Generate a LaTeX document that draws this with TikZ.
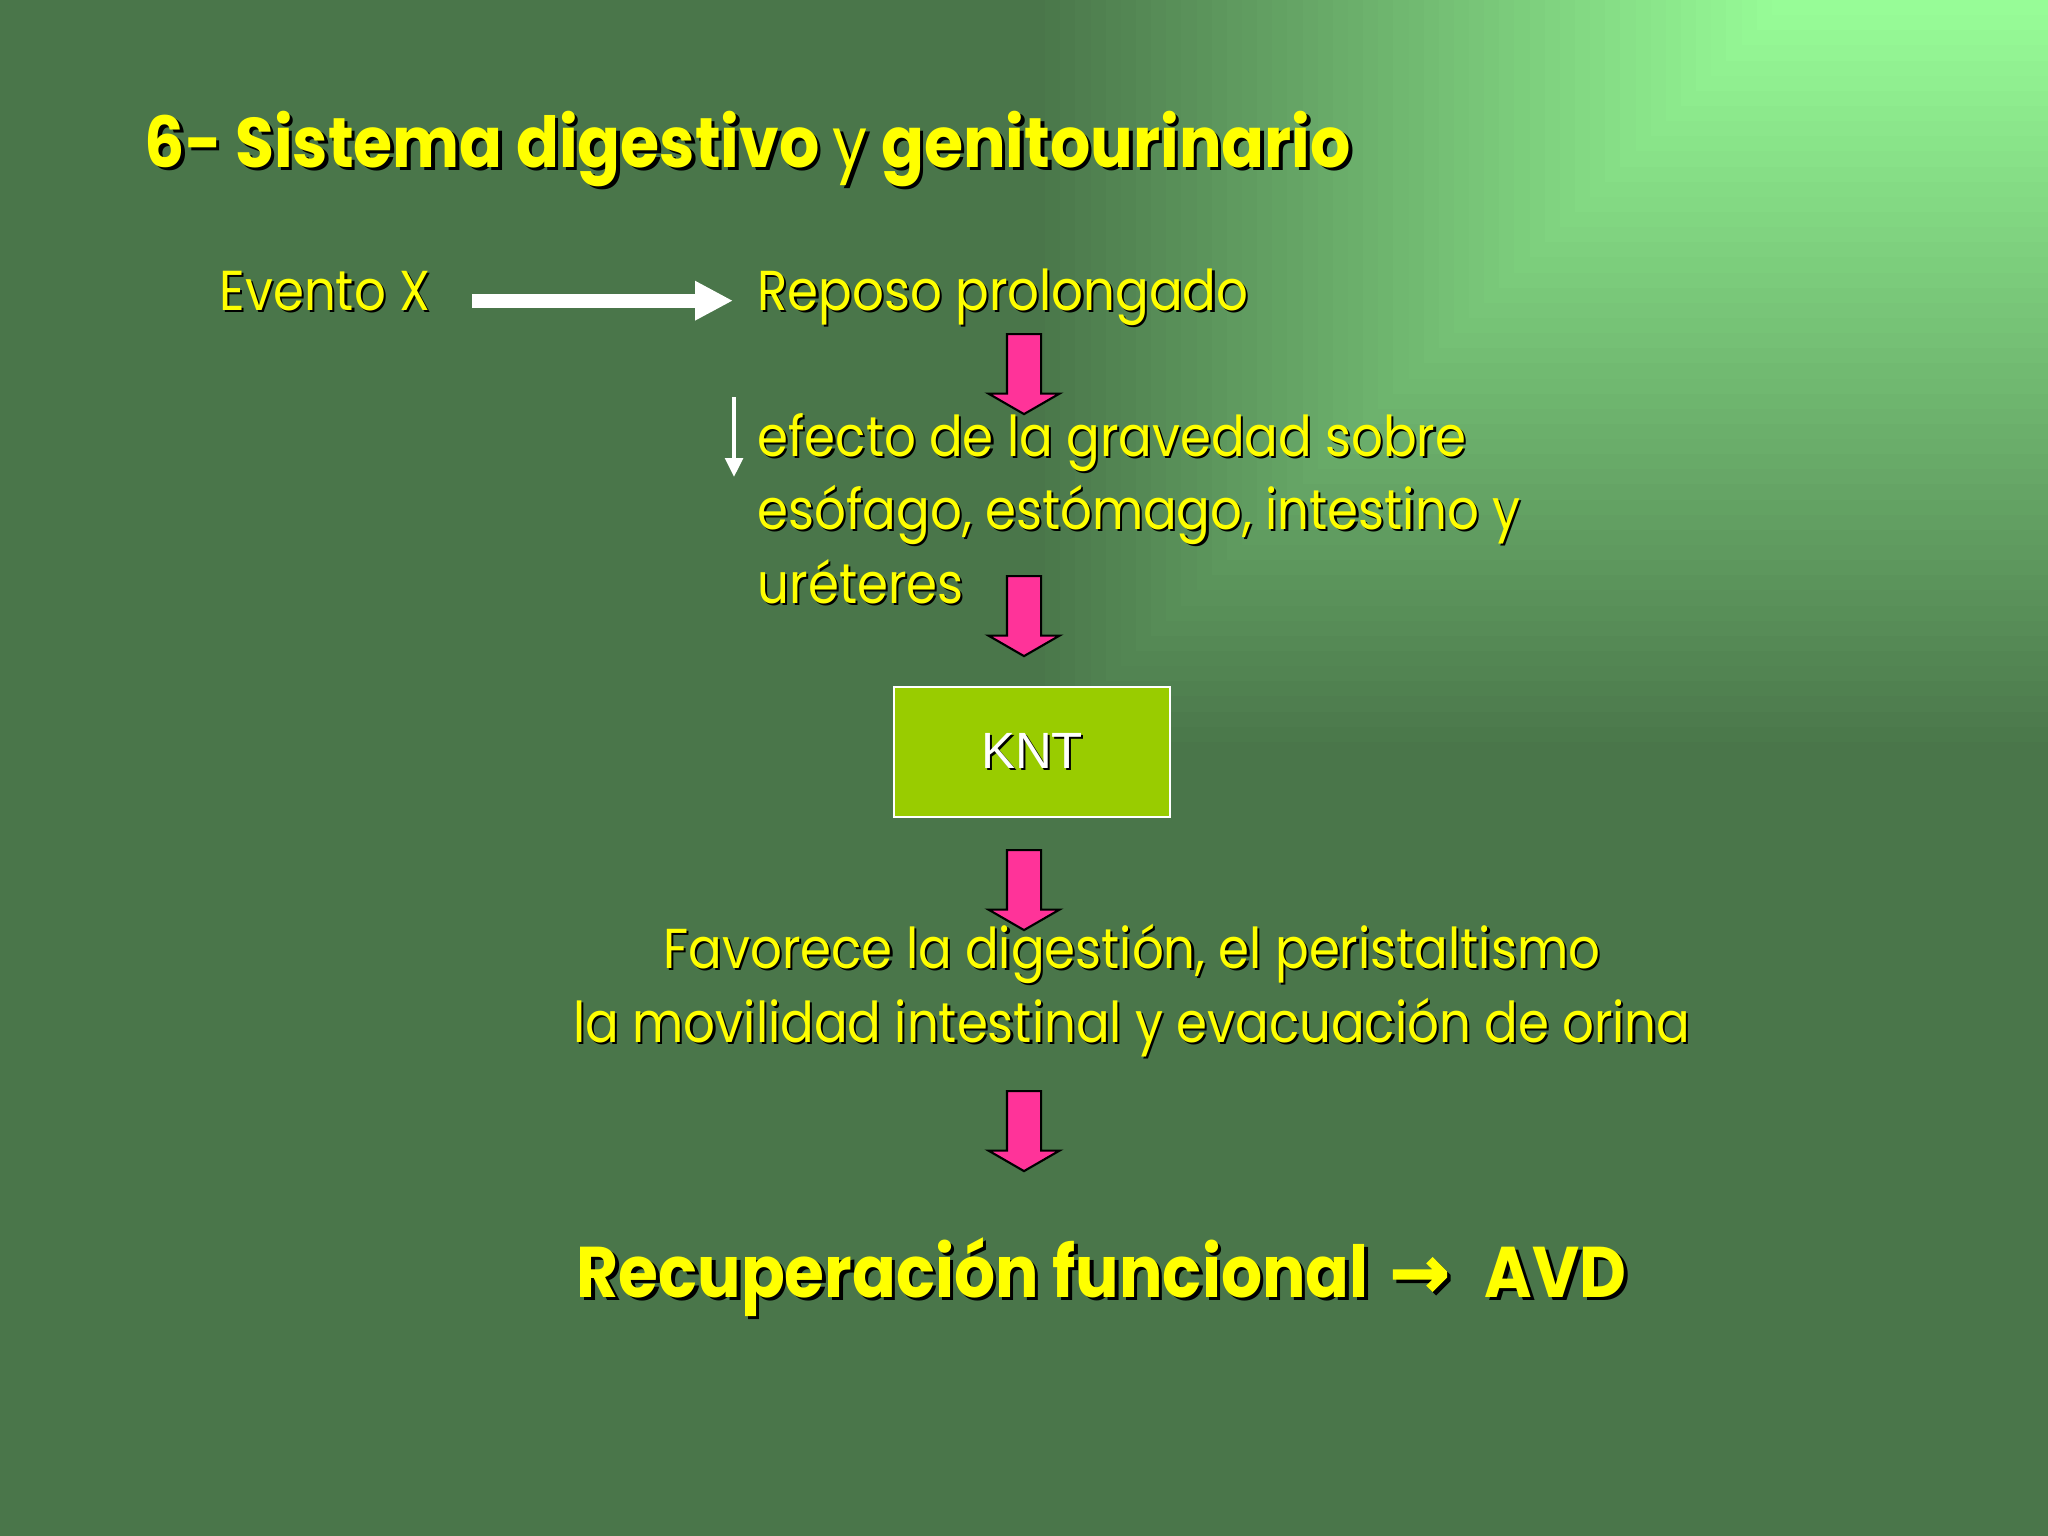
\documentclass[tikz,border=0pt]{standalone}
\usepackage{fontspec}
\setmainfont{Poppins}[FakeStretch=0.885, BoldFeatures={FakeStretch=0.9}]
\newfontfamily\arrowfont{DejaVu Sans Bold}[FakeBold=2.5]
\newfontfamily\kntfont{Liberation Sans}
\usetikzlibrary{shapes.arrows,arrows.meta,positioning}

\definecolor{bgdark}{RGB}{74,118,74}
\definecolor{bglight}{RGB}{153,255,153}
\definecolor{txtyellow}{RGB}{255,255,0}
\definecolor{kntgreen}{RGB}{153,204,0}
\definecolor{arrowpink}{RGB}{255,51,153}

% text with a dark drop shadow
\newcommand\shd[2][0.6pt]{\leavevmode\rlap{\kern#1\raisebox{-#1}{\color{black}#2}}#2}

\tikzset
{
    slidetext/.style = {text=txtyellow, inner sep=0pt, font=\fontsize{16}{20.8}\selectfont},
    titletext/.style = {text=txtyellow, inner sep=0pt, anchor=base west, font=\bfseries\fontsize{20}{24}\selectfont},
    blockarrow/.style = {single arrow, shape border rotate=270, draw=black, line width=0.6pt, fill=arrowpink,
                         minimum height=0.8cm, inner sep=0.16cm, single arrow head extend=0.185cm,
                         single arrow tip angle=120, anchor=tail},
    fatwhite/.style  = {white, line width=4pt, -{Triangle[length=10.8pt, width=10.5pt]}},
    thinwhite/.style = {white, line width=1.1pt, -{Triangle[length=5.4pt, width=5pt]}},
    kntbox/.style    = {draw=white, line width=0.7pt, fill=kntgreen, text=white, minimum width=2.76cm,
                        minimum height=1.3cm, font=\kntfont\fontsize{14.5}{18}\selectfont}
}

\begin{document}
\begin{tikzpicture}[x=0.01cm, y=-0.01cm]
    \useasboundingbox (0,0) rectangle (2048,1536);
    \fill[bgdark] (0,0) rectangle (2048,1536);
    % corner gradient
    \foreach \k in {50,...,0} {
        \pgfmathsetmacro\s{15.14*\k}
        \pgfmathsetmacro\p{100-2*\k}
        \fill[bglight!\p!bgdark] (1787-\s,0) rectangle (2048,\s);
    }

    \node (title) [titletext] at (144,167) {\shd[1pt]{6- Sistema digestivo} {\mdseries\shd[1pt]{y}} \shd[1pt]{genitourinario}};

    \node (evento) [slidetext, anchor=base west] at (219,310) {\shd{Evento X}};
    \node (reposo) [slidetext, anchor=base west] at (757,310) {\shd{Reposo prolongado}};
    \draw[fatwhite, shorten <=0.41cm, shorten >=0.24cm] ([yshift=-0.09cm]evento.east) -- ([yshift=-0.09cm]evento.east -| reposo.west);

    \node (a1) [blockarrow] at (1024,333) {};

    \coordinate (gtop) at (734,397);
    \coordinate (gbot) at (734,477);
    \draw[thinwhite] (gtop) -- (gbot);
    \node (efecto) [slidetext, anchor=base west, align=left] at (757,603)
        {\shd{efecto de la gravedad sobre}\\ \shd{esófago, estómago, intestino y}\\ \shd{uréteres}};

    \node (a2) [blockarrow] at (1024,575) {};
    \node (knt) [kntbox] at (1032,752) {\shd{KNT}};
    \node (a3) [blockarrow] at (1024,849) {};

    \node (favorece) [slidetext, anchor=base, align=center] at (1132,1042)
        {\shd{Favorece la digestión, el peristaltismo}\\ \shd{la movilidad intestinal y evacuación de orina}};

    \node (a4) [blockarrow] at (1024,1090) {};

    \node (recup) [titletext, font=\bfseries\fontsize{20.4}{24}\selectfont] at (576,1297)
        {\shd[1pt]{Recuperación funcional\hspace{6pt}{\arrowfont →}\hspace{10pt}AVD}};
\end{tikzpicture}
\end{document}
